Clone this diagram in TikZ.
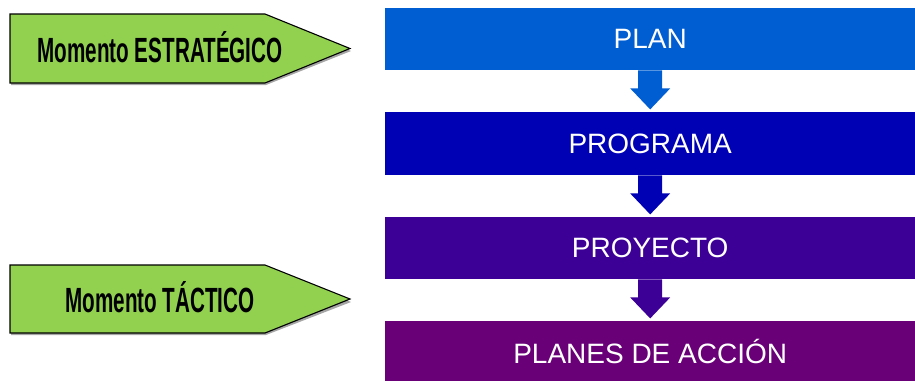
\documentclass[tikz,border=0pt]{standalone}
\usepackage{fontspec}
\setmainfont{Liberation Sans}
\usetikzlibrary{calc}
\definecolor{cplan}{RGB}{0,94,210}
\definecolor{cprog}{RGB}{0,0,180}
\definecolor{cproy}{RGB}{60,0,150}
\definecolor{cacc}{RGB}{106,0,120}
\definecolor{cgreen}{RGB}{146,208,80}
\tikzset{
  bar/.style={rectangle, inner sep=0pt, minimum width=530pt, minimum height=62pt,
    text=white, font=\fontsize{28}{28}\selectfont, anchor=north west},
  greenarrow/.style={fill=cgreen, draw=black, line width=1.1pt, line join=miter},
  gshadow/.style={fill=black!35},
  momtext/.style={inner sep=0pt, font=\fontsize{35}{35}\selectfont\bfseries}
}
\newcommand{\blockarrow}[2]{%
  \fill[#2] ($(#1.south)+(-12,0)$) -- ++(0,18) -- ++(-8,0) -- ($(#1.south)+(0,39)$)
    -- ($(#1.south)+(20,18)$) -- ++(-8,0) -- ($(#1.south)+(12,0)$) -- cycle;}
\begin{document}
\begin{tikzpicture}[x=1pt,y=-1pt]
\useasboundingbox (0,0) rectangle (915,381);
% bars
\node[bar, fill=cplan] (plan) at (385,8) {PLAN};
\node[bar, fill=cprog, minimum height=63pt] (prog) at (385,112) {PROGRAMA};
\node[bar, fill=cproy] (proy) at (385,217) {PROYECTO};
\node[bar, fill=cacc, minimum height=60pt] (acc) at (385,321) {PLANES DE ACCIÓN};
% block arrows
\blockarrow{plan}{cplan}
\blockarrow{prog}{cprog}
\blockarrow{proy}{cproy}
% green arrows
\fill[gshadow] (11,16) -- (266,16) -- (351,51) -- (266,85) -- (11,85) -- cycle;
\draw[greenarrow] (10,14) -- (265,14) -- (350,48.5) -- (265,83) -- (10,83) -- cycle;
\node[momtext] (estr) at (160,47) {\scalebox{0.59}[1]{Momento ESTRATÉGICO}};
\fill[gshadow] (11,267) -- (266,267) -- (351,302) -- (266,335) -- (11,335) -- cycle;
\draw[greenarrow] (10,265) -- (265,265) -- (350,299) -- (265,333) -- (10,333) -- cycle;
\node[momtext] (tact) at (160,297) {\scalebox{0.59}[1]{Momento TÁCTICO}};
\end{tikzpicture}
\end{document}
